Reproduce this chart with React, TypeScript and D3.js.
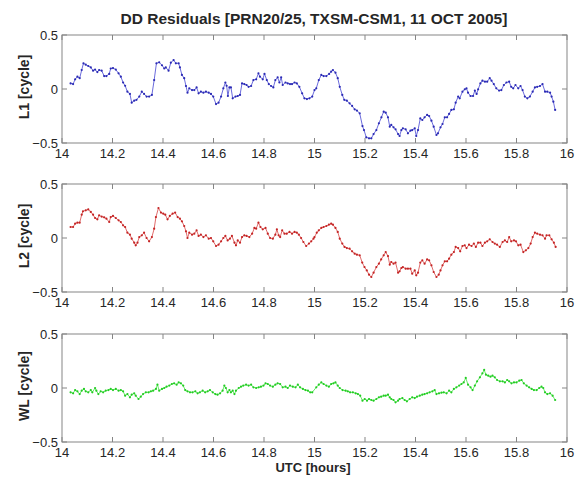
import React from "react";
import * as d3 from "d3";

// Double-difference residuals, hours UTC vs cycles
const L1: [number, number][] = [
  [14.034,0.052],[14.044,0.046],[14.052,0.09],[14.061,0.114],[14.070,0.10],[14.078,0.176],[14.085,0.238],[14.094,0.225],
  [14.104,0.213],[14.114,0.20],[14.123,0.17],[14.131,0.18],[14.140,0.157],[14.147,0.176],[14.157,0.17],[14.167,0.12],
  [14.176,0.12],[14.187,0.14],[14.193,0.19],[14.202,0.194],[14.213,0.18],[14.224,0.145],[14.233,0.114],[14.242,0.06],
  [14.250,0.03],[14.259,-0.025],[14.269,-0.046],[14.276,-0.127],[14.286,-0.108],[14.295,-0.10],[14.306,-0.07],[14.316,-0.025],
  [14.325,-0.046],[14.335,-0.07],[14.345,-0.07],[14.356,-0.055],[14.365,0.083],[14.374,0.238],[14.385,0.247],[14.396,0.22],
  [14.405,0.19],[14.411,0.20],[14.422,0.17],[14.431,0.244],[14.442,0.268],[14.451,0.238],[14.462,0.238],[14.467,0.20],
  [14.475,0.13],[14.484,0.10],[14.491,0.028],[14.497,-0.034],[14.504,0.006],[14.515,-0.01],[14.524,-0.01],[14.533,0.015],
  [14.541,-0.04],[14.550,-0.025],[14.560,-0.034],[14.570,-0.025],[14.581,-0.034],[14.590,-0.046],[14.599,-0.07],[14.610,-0.14],
  [14.620,-0.127],[14.630,-0.07],[14.639,0.006],[14.647,0.06],[14.652,0.03],[14.657,-0.065],[14.663,0.015],[14.669,0.015],
  [14.676,-0.086],[14.687,-0.07],[14.696,-0.065],[14.705,-0.055],[14.713,0.052],[14.722,0.046],[14.731,0.037],[14.739,0.02],
  [14.749,0.028],[14.758,0.083],[14.769,0.09],[14.778,0.145],[14.784,0.114],[14.795,0.09],[14.802,0.14],[14.811,0.083],
  [14.819,0.046],[14.828,0.028],[14.837,0.015],[14.845,0.083],[14.854,0.108],[14.861,0.06],[14.868,0.108],[14.874,0.037],
  [14.885,0.06],[14.894,0.052],[14.903,0.046],[14.911,0.046],[14.921,0.06],[14.930,0.052],[14.940,0.02],[14.951,-0.04],
  [14.960,-0.086],[14.970,-0.093],[14.980,-0.086],[14.991,-0.07],[15.000,-0.01],
  [15.007,0.006],[15.017,0.083],[15.027,0.13],[15.036,0.12],[15.047,0.12],[15.058,0.14],[15.066,0.16],[15.073,0.176],
  [15.083,0.151],[15.092,0.10],[15.100,0.02],[15.110,-0.055],[15.118,-0.10],[15.128,-0.108],[15.139,-0.133],[15.149,-0.157],
  [15.159,-0.188],[15.168,-0.20],[15.179,-0.225],[15.190,-0.343],[15.196,-0.38],[15.205,-0.447],[15.216,-0.457],[15.225,-0.457],
  [15.234,-0.417],[15.245,-0.38],[15.255,-0.318],[15.265,-0.262],[15.274,-0.21],[15.282,-0.219],[15.291,-0.262],[15.298,-0.349],
  [15.304,-0.333],[15.313,-0.355],[15.321,-0.373],[15.331,-0.417],[15.337,-0.435],[15.344,-0.38],[15.350,-0.364],[15.361,-0.373],
  [15.370,-0.41],[15.380,-0.386],[15.387,-0.38],[15.397,-0.364],[15.403,-0.435],[15.410,-0.38],[15.419,-0.272],[15.427,-0.287],
  [15.436,-0.262],[15.446,-0.24],[15.454,-0.25],[15.463,-0.293],[15.472,-0.349],[15.483,-0.426],[15.489,-0.41],[15.499,-0.355],
  [15.507,-0.324],[15.516,-0.262],[15.525,-0.262],[15.533,-0.231],[15.542,-0.194],[15.552,-0.188],[15.559,-0.127],[15.569,-0.07],
  [15.575,-0.086],[15.586,-0.025],[15.595,-0.003],[15.602,0.006],[15.608,-0.034],[15.618,-0.065],[15.628,-0.065],[15.635,-0.015],
  [15.642,-0.046],[15.648,-0.003],[15.657,0.052],[15.665,0.077],[15.675,0.068],[15.684,0.068],[15.694,0.10],[15.701,0.077],
  [15.710,0.046],[15.720,0.006],[15.731,-0.015],[15.740,-0.01],[15.750,0.037],[15.760,0.06],[15.771,0.068],[15.779,0.02],
  [15.787,0.006],[15.796,0.037],[15.807,0.006],[15.816,0.028],[15.824,-0.01],[15.833,-0.07],[15.843,-0.086],[15.853,-0.07],
  [15.864,-0.025],[15.873,0.015],[15.882,0.02],[15.893,0.028],[15.903,0.046],[15.913,-0.025],[15.922,-0.025],[15.933,-0.034],
  [15.939,-0.07],[15.946,-0.117],[15.953,-0.194],
];

const L2: [number, number][] = [
  [14.034,0.102],[14.044,0.102],[14.052,0.133],[14.061,0.142],[14.070,0.142],[14.078,0.216],[14.083,0.247],[14.094,0.256],
  [14.104,0.265],[14.114,0.241],[14.123,0.216],[14.131,0.185],[14.140,0.173],[14.147,0.21],[14.157,0.198],[14.167,0.191],
  [14.176,0.179],[14.187,0.148],[14.193,0.194],[14.202,0.204],[14.213,0.185],[14.224,0.164],[14.233,0.148],[14.242,0.117],
  [14.250,0.102],[14.259,0.049],[14.269,0.031],[14.276,-0.006],[14.286,-0.043],[14.292,-0.068],[14.299,-0.043],[14.306,0.009],
  [14.316,0.025],[14.325,0.049],[14.335,0.0],[14.345,-0.031],[14.356,0.009],[14.365,0.086],[14.372,0.194],[14.382,0.278],
  [14.392,0.235],[14.401,0.225],[14.409,0.216],[14.418,0.173],[14.427,0.204],[14.438,0.225],[14.448,0.235],[14.458,0.194],
  [14.467,0.179],[14.475,0.154],[14.484,0.111],[14.491,0.062],[14.497,0.0],[14.504,0.049],[14.515,0.031],[14.524,0.04],
  [14.533,0.071],[14.541,0.019],[14.550,0.031],[14.560,0.009],[14.570,0.025],[14.581,-0.006],[14.590,0.0],[14.599,-0.031],
  [14.610,-0.074],[14.620,-0.062],[14.630,-0.031],[14.639,0.0],[14.647,0.019],[14.656,-0.022],[14.665,-0.006],[14.673,0.019],
  [14.683,-0.043],[14.689,-0.068],[14.696,-0.022],[14.705,-0.043],[14.713,0.009],[14.722,0.025],[14.731,0.019],[14.742,0.009],
  [14.753,0.04],[14.762,0.093],[14.769,0.086],[14.778,0.142],[14.786,0.102],[14.795,0.08],[14.806,0.093],[14.815,0.04],
  [14.824,0.0],[14.835,-0.006],[14.845,0.031],[14.851,0.08],[14.858,0.025],[14.864,0.009],[14.872,0.071],[14.881,0.04],
  [14.890,0.04],[14.901,0.056],[14.911,0.04],[14.921,0.056],[14.930,0.049],[14.938,0.031],[14.947,0.0],[14.956,-0.037],
  [14.967,-0.074],[14.978,-0.052],[14.987,-0.031],[14.996,-0.006],
  [15.000,0.009],[15.009,0.049],[15.017,0.071],[15.027,0.093],[15.036,0.102],[15.047,0.111],[15.057,0.123],[15.066,0.133],
  [15.073,0.123],[15.083,0.093],[15.092,0.056],[15.100,-0.006],[15.110,-0.052],[15.119,-0.083],[15.128,-0.093],[15.139,-0.099],
  [15.149,-0.123],[15.159,-0.145],[15.168,-0.154],[15.179,-0.16],[15.189,-0.228],[15.198,-0.269],[15.207,-0.30],[15.216,-0.34],
  [15.225,-0.361],[15.234,-0.321],[15.245,-0.269],[15.255,-0.238],[15.264,-0.198],[15.274,-0.16],[15.282,-0.13],[15.291,-0.167],
  [15.298,-0.247],[15.304,-0.222],[15.313,-0.238],[15.321,-0.228],[15.331,-0.321],[15.337,-0.309],[15.344,-0.278],[15.350,-0.269],
  [15.361,-0.284],[15.370,-0.284],[15.380,-0.284],[15.387,-0.33],[15.397,-0.30],[15.403,-0.346],[15.410,-0.321],[15.419,-0.228],
  [15.427,-0.207],[15.436,-0.238],[15.446,-0.198],[15.454,-0.207],[15.463,-0.253],[15.472,-0.315],[15.483,-0.361],[15.492,-0.34],
  [15.499,-0.30],[15.507,-0.253],[15.516,-0.216],[15.525,-0.216],[15.533,-0.191],[15.542,-0.154],[15.552,-0.13],[15.559,-0.083],
  [15.569,-0.093],[15.577,-0.123],[15.586,-0.074],[15.595,-0.068],[15.602,-0.093],[15.612,-0.062],[15.622,-0.074],[15.631,-0.052],
  [15.639,-0.083],[15.648,-0.043],[15.657,-0.043],[15.665,-0.074],[15.675,-0.043],[15.684,-0.031],[15.694,-0.012],[15.705,-0.037],
  [15.714,-0.052],[15.723,-0.062],[15.734,-0.083],[15.745,-0.037],[15.754,-0.022],[15.763,-0.037],[15.771,0.009],[15.779,-0.031],
  [15.790,-0.022],[15.798,-0.031],[15.807,-0.068],[15.816,-0.062],[15.827,-0.13],[15.837,-0.114],[15.847,-0.093],[15.856,-0.052],
  [15.864,0.009],[15.873,0.049],[15.882,0.04],[15.893,0.031],[15.903,0.025],[15.913,-0.006],[15.919,0.025],[15.930,0.025],
  [15.939,-0.012],[15.948,-0.043],[15.955,-0.083],
];

const WL: [number, number][] = [
  [14.034,-0.04],[14.044,-0.049],[14.052,-0.019],[14.061,-0.031],[14.070,-0.056],[14.078,-0.025],[14.087,-0.009],[14.094,-0.031],
  [14.104,-0.04],[14.114,-0.019],[14.120,-0.04],[14.131,0.0],[14.136,-0.025],[14.144,-0.056],[14.153,-0.031],[14.163,-0.04],
  [14.173,-0.025],[14.184,-0.019],[14.193,-0.009],[14.202,-0.019],[14.213,-0.009],[14.224,-0.025],[14.233,-0.019],[14.242,-0.031],
  [14.250,-0.071],[14.259,-0.056],[14.269,-0.086],[14.276,-0.062],[14.286,-0.049],[14.292,-0.071],[14.303,-0.102],[14.312,-0.08],
  [14.321,-0.056],[14.332,-0.04],[14.343,-0.04],[14.352,-0.031],[14.361,-0.025],[14.372,-0.009],[14.378,0.031],[14.385,-0.025],
  [14.396,-0.009],[14.405,0.0],[14.414,0.012],[14.425,0.022],[14.435,0.037],[14.444,0.043],[14.454,0.031],[14.462,0.052],
  [14.471,0.043],[14.480,0.022],[14.488,-0.019],[14.497,-0.031],[14.507,-0.04],[14.517,-0.04],[14.528,-0.031],[14.537,-0.049],
  [14.546,-0.04],[14.557,-0.025],[14.567,-0.04],[14.577,-0.031],[14.586,-0.019],[14.597,-0.04],[14.607,-0.056],[14.616,-0.062],
  [14.626,-0.049],[14.636,-0.025],[14.643,0.022],[14.649,0.0],[14.656,-0.04],[14.663,-0.019],[14.669,-0.04],[14.676,-0.025],
  [14.683,-0.056],[14.689,-0.025],[14.700,0.0],[14.709,0.012],[14.718,0.022],[14.729,0.031],[14.739,0.022],[14.749,0.031],
  [14.758,0.006],[14.769,0.0],[14.779,0.006],[14.788,0.012],[14.798,0.022],[14.806,0.043],[14.815,0.037],[14.824,0.022],
  [14.835,0.012],[14.845,0.031],[14.854,0.043],[14.864,0.037],[14.874,0.006],[14.885,0.012],[14.894,0.0],[14.903,0.022],
  [14.914,0.012],[14.925,0.006],[14.934,0.031],[14.943,0.006],[14.954,-0.009],[14.964,-0.019],[14.974,-0.025],[14.983,-0.04],
  [14.991,-0.04],
  [15.007,0.006],[15.017,0.031],[15.027,0.052],[15.036,0.037],[15.047,0.022],[15.057,0.012],[15.066,0.037],[15.075,0.043],
  [15.083,0.052],[15.092,0.022],[15.100,0.0],[15.111,-0.019],[15.123,-0.025],[15.132,-0.031],[15.141,-0.04],[15.152,-0.04],
  [15.163,-0.049],[15.172,-0.056],[15.181,-0.071],[15.190,-0.117],[15.199,-0.102],[15.208,-0.117],[15.216,-0.102],[15.225,-0.111],
  [15.234,-0.117],[15.245,-0.102],[15.255,-0.086],[15.264,-0.08],[15.274,-0.071],[15.282,-0.071],[15.291,-0.062],[15.298,-0.086],
  [15.304,-0.102],[15.313,-0.111],[15.321,-0.133],[15.331,-0.117],[15.337,-0.102],[15.348,-0.093],[15.357,-0.111],[15.366,-0.123],
  [15.377,-0.102],[15.387,-0.086],[15.397,-0.093],[15.406,-0.08],[15.417,-0.071],[15.427,-0.062],[15.436,-0.056],[15.446,-0.049],
  [15.456,-0.04],[15.467,-0.031],[15.476,-0.019],[15.483,-0.056],[15.493,-0.049],[15.503,-0.043],[15.512,-0.04],[15.523,-0.049],
  [15.533,-0.025],[15.542,-0.04],[15.552,-0.009],[15.562,0.006],[15.573,0.022],[15.582,0.037],[15.591,0.052],[15.599,0.093],
  [15.608,0.031],[15.618,0.006],[15.626,-0.019],[15.635,0.022],[15.644,0.062],[15.655,0.099],[15.665,0.136],[15.672,0.167],
  [15.679,0.123],[15.688,0.114],[15.697,0.105],[15.705,0.114],[15.714,0.099],[15.723,0.074],[15.734,0.062],[15.745,0.062],
  [15.754,0.052],[15.763,0.074],[15.771,0.062],[15.780,0.043],[15.790,0.052],[15.800,0.052],[15.811,0.068],[15.820,0.074],
  [15.829,0.043],[15.840,0.022],[15.850,0.006],[15.860,-0.009],[15.869,-0.019],[15.880,-0.019],[15.890,0.0],[15.899,0.012],
  [15.906,0.0],[15.913,-0.04],[15.922,-0.056],[15.933,-0.049],[15.943,-0.071],[15.953,-0.111],
];

const X_TICKS = [14, 14.2, 14.4, 14.6, 14.8, 15, 15.2, 15.4, 15.6, 15.8, 16];
const Y_TICKS = [-0.5, 0, 0.5];
const SERIES_NAMES = ["L1", "L2", "WL"];
const LINE_COLORS = ["#5a5ad8", "#dc5a5a", "#5ae65a"];
const MARKER_COLORS = ["#2a2ab4", "#c42424", "#22cc22"];
const TITLE = "DD Residuals [PRN20/25, TXSM-CSM1, 11 OCT 2005]";
const X_LABEL = "UTC [hours]";

const W = 579;
const H = 477;
const left = 62;
const right = 567;
const panelTops = [35, 184, 334];
const panelH = 108;
const tickLen = 5;
const FONT = "'Liberation Sans', Arial, Helvetica, sans-serif";
const AXIS = "#858585";
const INK = "#262626";

const x = d3.scaleLinear().domain([14, 16]).range([left, right]);
const fmt = d3.format("~g");

function Panel({ data, top, name, lineColor, markerColor }: { data: [number, number][]; top: number; name: string; lineColor: string; markerColor: string }) {
  const y = d3.scaleLinear().domain([-0.5, 0.5]).range([top + panelH, top]);
  const line = d3.line<[number, number]>().x((d) => x(d[0])).y((d) => y(d[1]));
  const bottom = top + panelH;
  return (
    <g>
      <rect x={left} y={top} width={right - left} height={panelH} fill="#fff" stroke={AXIS} strokeWidth={1} />
      {X_TICKS.map((t) => (
        <g key={t}>
          <line x1={x(t)} x2={x(t)} y1={bottom} y2={bottom - tickLen} stroke={AXIS} />
          <line x1={x(t)} x2={x(t)} y1={top} y2={top + tickLen} stroke={AXIS} />
          <text x={x(t)} y={bottom + 15} textAnchor="middle" fontSize={13} fill={INK} fontFamily={FONT}>
            {fmt(t)}
          </text>
        </g>
      ))}
      {Y_TICKS.map((v) => (
        <g key={v}>
          <line x1={left} x2={left + tickLen} y1={y(v)} y2={y(v)} stroke={AXIS} />
          <line x1={right} x2={right - tickLen} y1={y(v)} y2={y(v)} stroke={AXIS} />
          <text x={left - 4} y={y(v) + 4.5} textAnchor="end" fontSize={13} fill={INK} fontFamily={FONT}>
            {fmt(v)}
          </text>
        </g>
      ))}
      <path d={line(data) || ""} fill="none" stroke={lineColor} strokeWidth={0.9} />
      {data.map((d, i) => (
        <circle key={i} cx={x(d[0])} cy={y(d[1])} r={1.1} fill={markerColor} />
      ))}
      <text
        transform={`translate(${29},${top + panelH / 2 - 2}) rotate(-90)`}
        textAnchor="middle"
        fontSize={14}
        fontWeight="bold"
        fill={INK}
        fontFamily={FONT}
      >
        {name} [cycle]
      </text>
    </g>
  );
}

export default function App() {
  const series = [L1, L2, WL];
  return (
    <svg width={W} height={H} style={{ position: "absolute", left: 0, top: 0, background: "#fff" }}>
      <rect width={W} height={H} fill="#fff" />
      <text x={314} y={24} textAnchor="middle" fontSize={15.5} fontWeight="bold" fill={INK} fontFamily={FONT}>
        {TITLE}
      </text>
      {series.map((s, i) => (
        <Panel
          key={SERIES_NAMES[i]}
          data={s}
          top={panelTops[i]}
          name={SERIES_NAMES[i]}
          lineColor={LINE_COLORS[i]}
          markerColor={MARKER_COLORS[i]}
        />
      ))}
      <text x={313} y={472} textAnchor="middle" fontSize={13} fontWeight="bold" fill={INK} fontFamily={FONT}>
        {X_LABEL}
      </text>
    </svg>
  );
}
